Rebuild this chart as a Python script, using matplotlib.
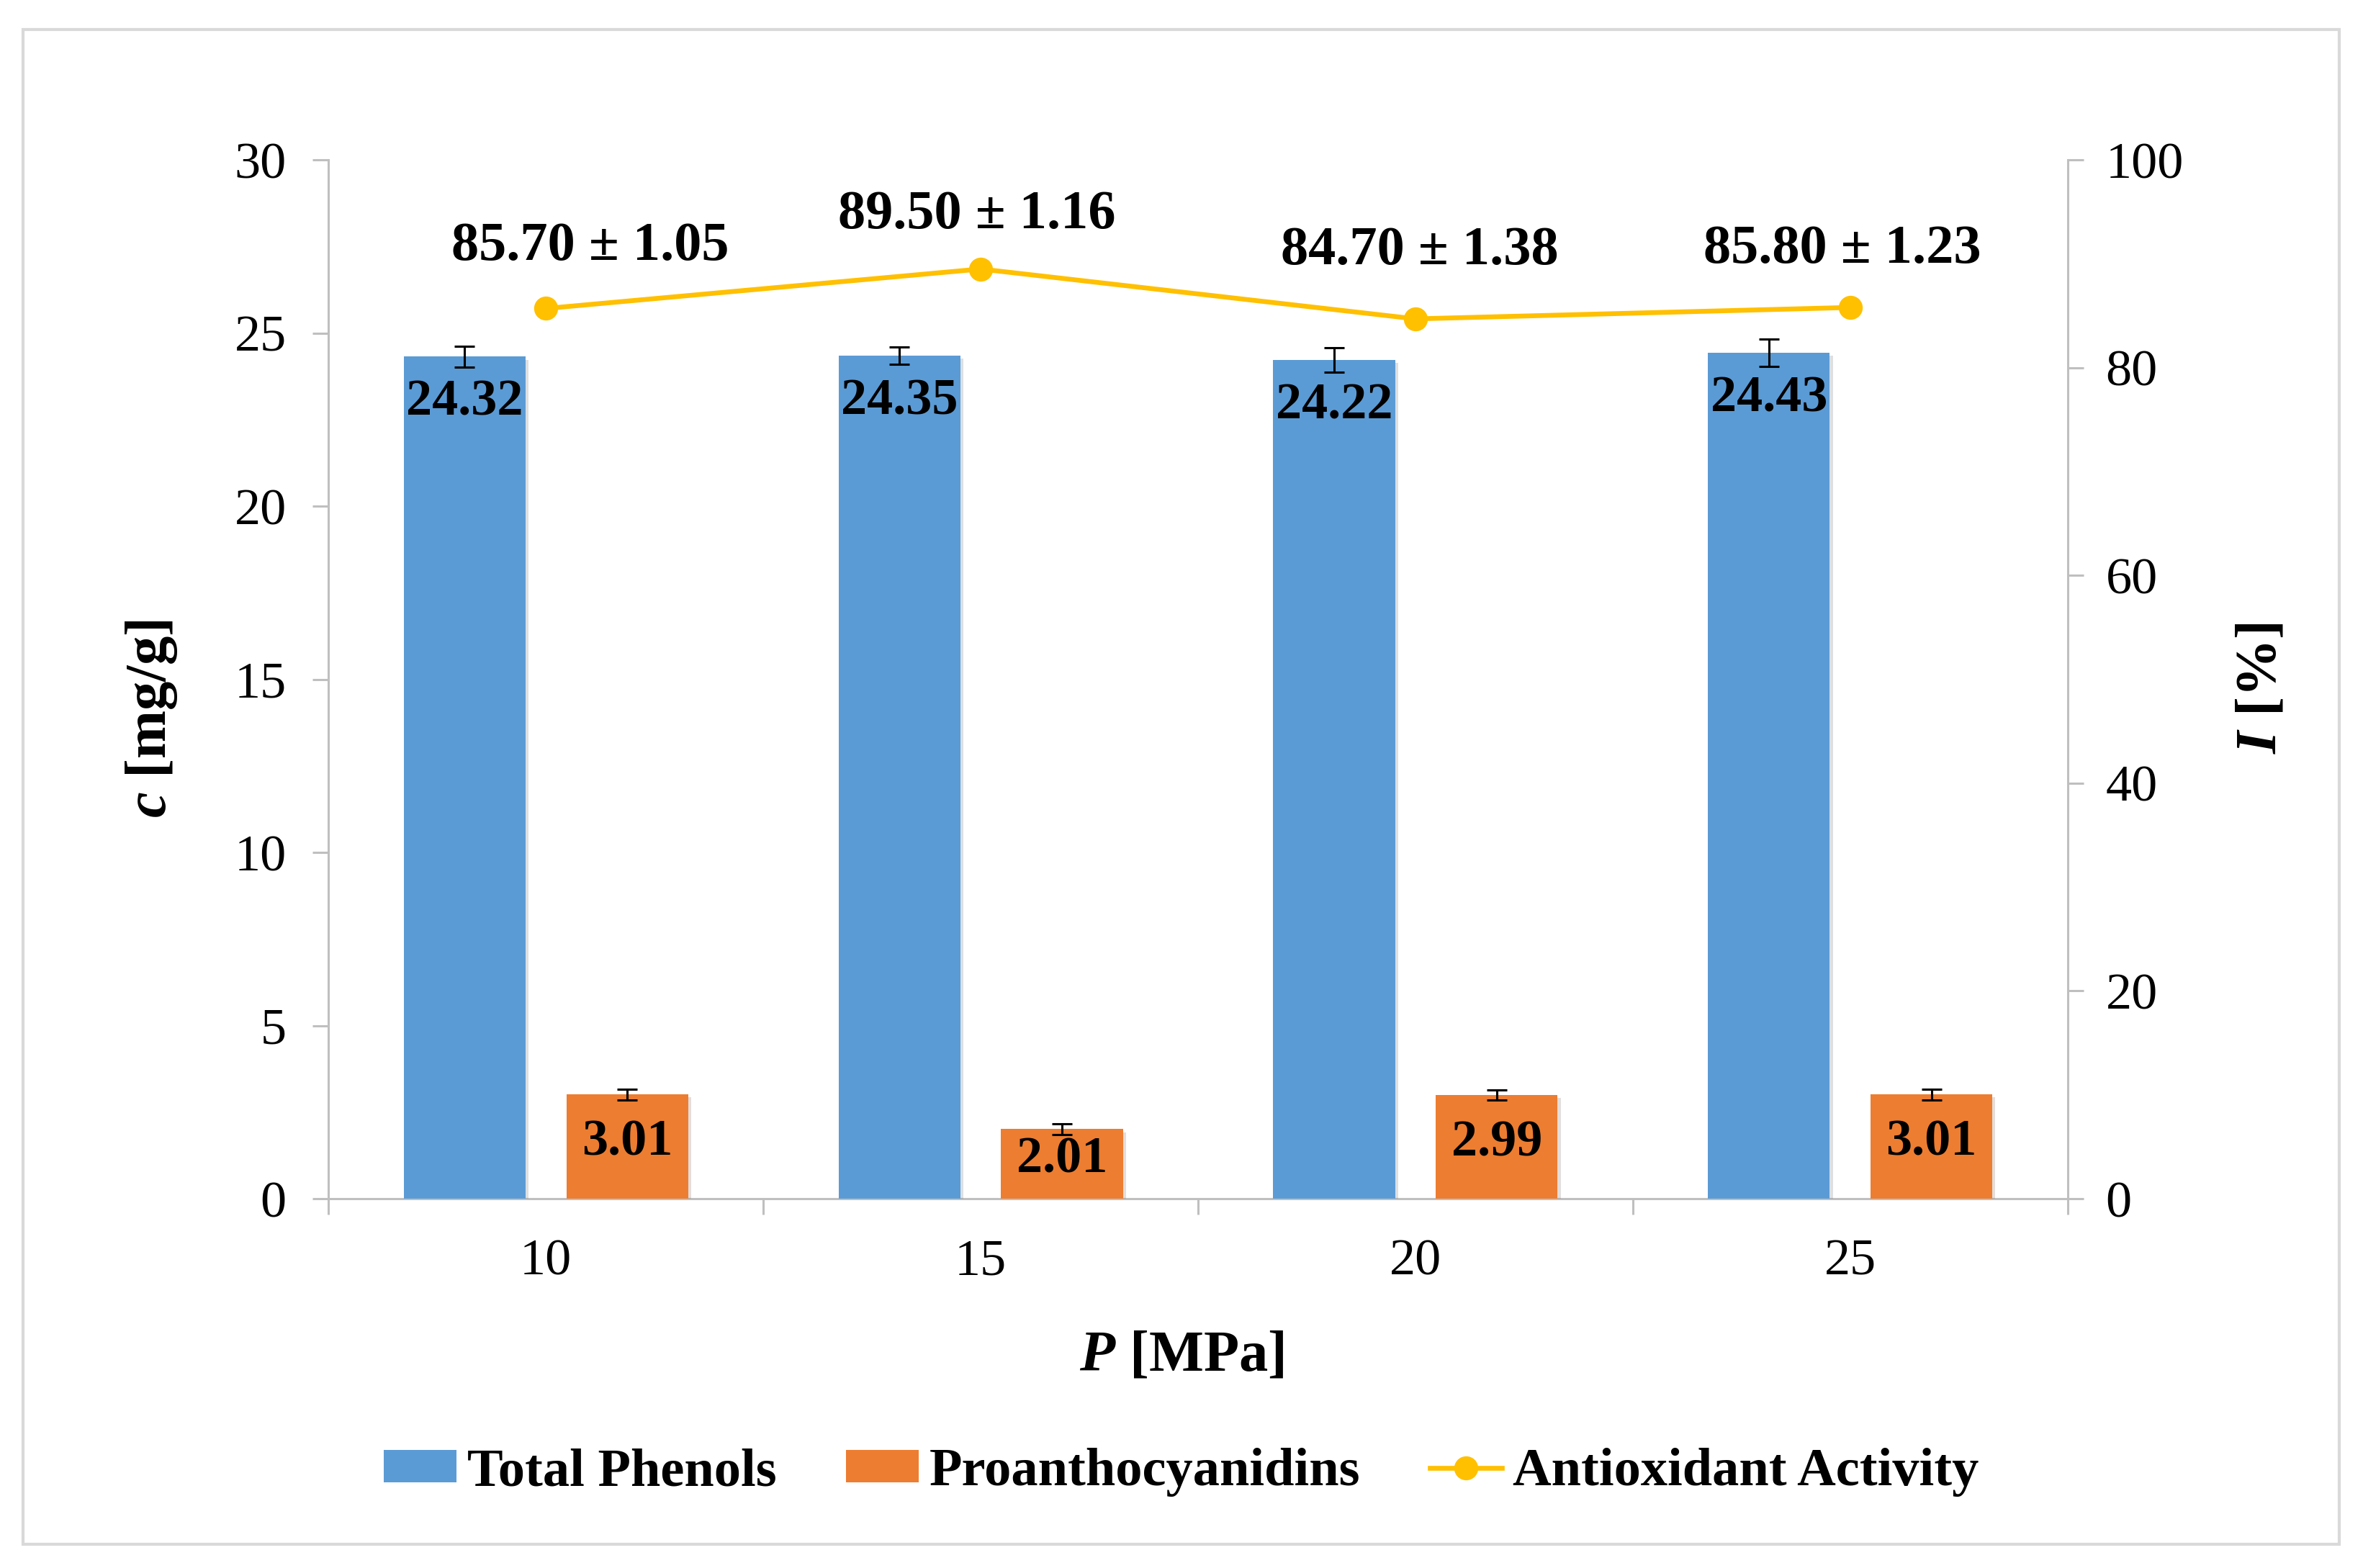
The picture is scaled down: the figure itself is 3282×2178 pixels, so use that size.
import matplotlib.pyplot as plt
import matplotlib.patheffects as pe
from matplotlib.patches import Rectangle
from matplotlib.lines import Line2D
from matplotlib.patches import Patch
import numpy as np

PRESSURES = ["10", "15", "20", "25"]
TOTAL_PHENOLS = [24.32, 24.35, 24.22, 24.43]
TOTAL_PHENOLS_ERR = [0.30, 0.25, 0.35, 0.40]
PROANTHOCYANIDINS = [3.01, 2.01, 2.99, 3.01]
PROANTHOCYANIDINS_ERR = [0.15, 0.15, 0.15, 0.15]
ANTIOXIDANT = [85.70, 89.50, 84.70, 85.80]
ANTIOXIDANT_ERR = [1.05, 1.16, 1.38, 1.23]

BLUE = "#5B9BD5"
ORANGE = "#ED7D31"
GOLD = "#FFC000"
SPINE = "#BFBFBF"

plt.rcParams["font.family"] = ["Liberation Serif", "DejaVu Serif"]
plt.rcParams["mathtext.fontset"] = "custom"
plt.rcParams["mathtext.rm"] = "Liberation Serif:bold"
plt.rcParams["mathtext.it"] = "Liberation Serif:italic:bold"
plt.rcParams["mathtext.bf"] = "Liberation Serif:bold"

fig = plt.figure(figsize=(16.41, 10.89), dpi=200)
ax = fig.add_axes([0.139, 0.2355, 0.736, 0.6625])
ax2 = ax.twinx()

x = np.arange(len(PRESSURES))
width = 0.28
off = 0.187
shadow = [pe.SimplePatchShadow(offset=(1.5, -1.5), alpha=0.15), pe.Normal()]

bars1 = ax.bar(x - off, TOTAL_PHENOLS, width, color=BLUE, zorder=3)
bars2 = ax.bar(x + off, PROANTHOCYANIDINS, width, color=ORANGE, zorder=3)
for b in list(bars1) + list(bars2):
    b.set_path_effects(shadow)
ax.errorbar(x - off, TOTAL_PHENOLS, yerr=TOTAL_PHENOLS_ERR, fmt="none",
            ecolor="black", elinewidth=1.1, capsize=5, capthick=1.1, zorder=4)
ax.errorbar(x + off, PROANTHOCYANIDINS, yerr=PROANTHOCYANIDINS_ERR, fmt="none",
            ecolor="black", elinewidth=1.1, capsize=5, capthick=1.1, zorder=4)

for xi, v in zip(x - off, TOTAL_PHENOLS):
    ax.annotate(f"{v:.2f}", (xi, v), xytext=(0, -23), textcoords="offset points",
                ha="center", va="center", fontsize=26, fontweight="bold", zorder=5)
for xi, v in zip(x + off, PROANTHOCYANIDINS):
    ax.annotate(f"{v:.2f}", (xi, v / 2), xytext=(0, 2), textcoords="offset points",
                ha="center", va="center", fontsize=26, fontweight="bold", zorder=5)

ax.set_xlim(-0.5, len(PRESSURES) - 0.5)
ax.set_ylim(0, 30)
ax.set_yticks(np.arange(0, 31, 5))
ax.set_xticks(x)
ax.set_xticklabels(PRESSURES)
ax.set_xticks(np.arange(-0.5, len(PRESSURES), 1), minor=True)
ax.tick_params(axis="x", which="major", length=0, pad=20, labelsize=26)
ax.tick_params(axis="x", which="minor", length=8, width=1.1, color=SPINE, direction="out")
ax.tick_params(axis="y", length=8, width=1.1, color=SPINE, pad=13, labelsize=26)

ax2.plot(x, ANTIOXIDANT, color=GOLD, lw=2.4, marker="o", markersize=11, zorder=6)
label_offsets = [(22, 31), (-2, 27), (2, 34), (-4, 29)]
for xi, v, e, (dx, dy) in zip(x, ANTIOXIDANT, ANTIOXIDANT_ERR, label_offsets):
    ax2.annotate(f"{v:.2f} ± {e:.2f}", (xi, v), xytext=(dx, dy), textcoords="offset points",
                 ha="center", va="center", fontsize=27.5, fontweight="bold")
ax2.set_ylim(0, 100)
ax2.set_yticks(np.arange(0, 101, 20))
ax2.tick_params(axis="y", length=8, width=1.1, color=SPINE, pad=11, labelsize=26)

for a in (ax, ax2):
    a.spines["top"].set_visible(False)
    for s in ("left", "right", "bottom"):
        a.spines[s].set_color(SPINE)
        a.spines[s].set_linewidth(1.1)
ax.spines["right"].set_visible(False)
ax2.spines["left"].set_visible(False)
ax2.spines["bottom"].set_visible(False)

fig.text(0.064, 0.5415, r"$c$ [mg/g]", rotation=90, ha="center", va="center",
         fontsize=29, fontweight="bold")
fig.text(0.957, 0.561, r"$I$ [%]", rotation=90, ha="center", va="center",
         fontsize=29, fontweight="bold")
fig.text(0.5, 0.135, r"$P$ [MPa]", ha="center", va="center",
         fontsize=29, fontweight="bold")

handles = [
    Patch(facecolor=BLUE, label="Total Phenols"),
    Patch(facecolor=ORANGE, label="Proanthocyanidins"),
    Line2D([0], [0], color=GOLD, lw=2.4, marker="o", markersize=11,
           label="Antioxidant Activity"),
]
fig.legend(handles=handles, loc="center", bbox_to_anchor=(0.5, 0.061), ncol=3,
           frameon=False, prop={"weight": "bold", "size": 26.8},
           handlelength=1.35, handleheight=0.55, handletextpad=0.2, columnspacing=1.3)

fig.patches.append(Rectangle((0.0096, 0.015), 0.9804, 0.966, transform=fig.transFigure,
                             fill=False, edgecolor="#D9D9D9", linewidth=1.5))

fig.savefig("out.png", dpi=200)
